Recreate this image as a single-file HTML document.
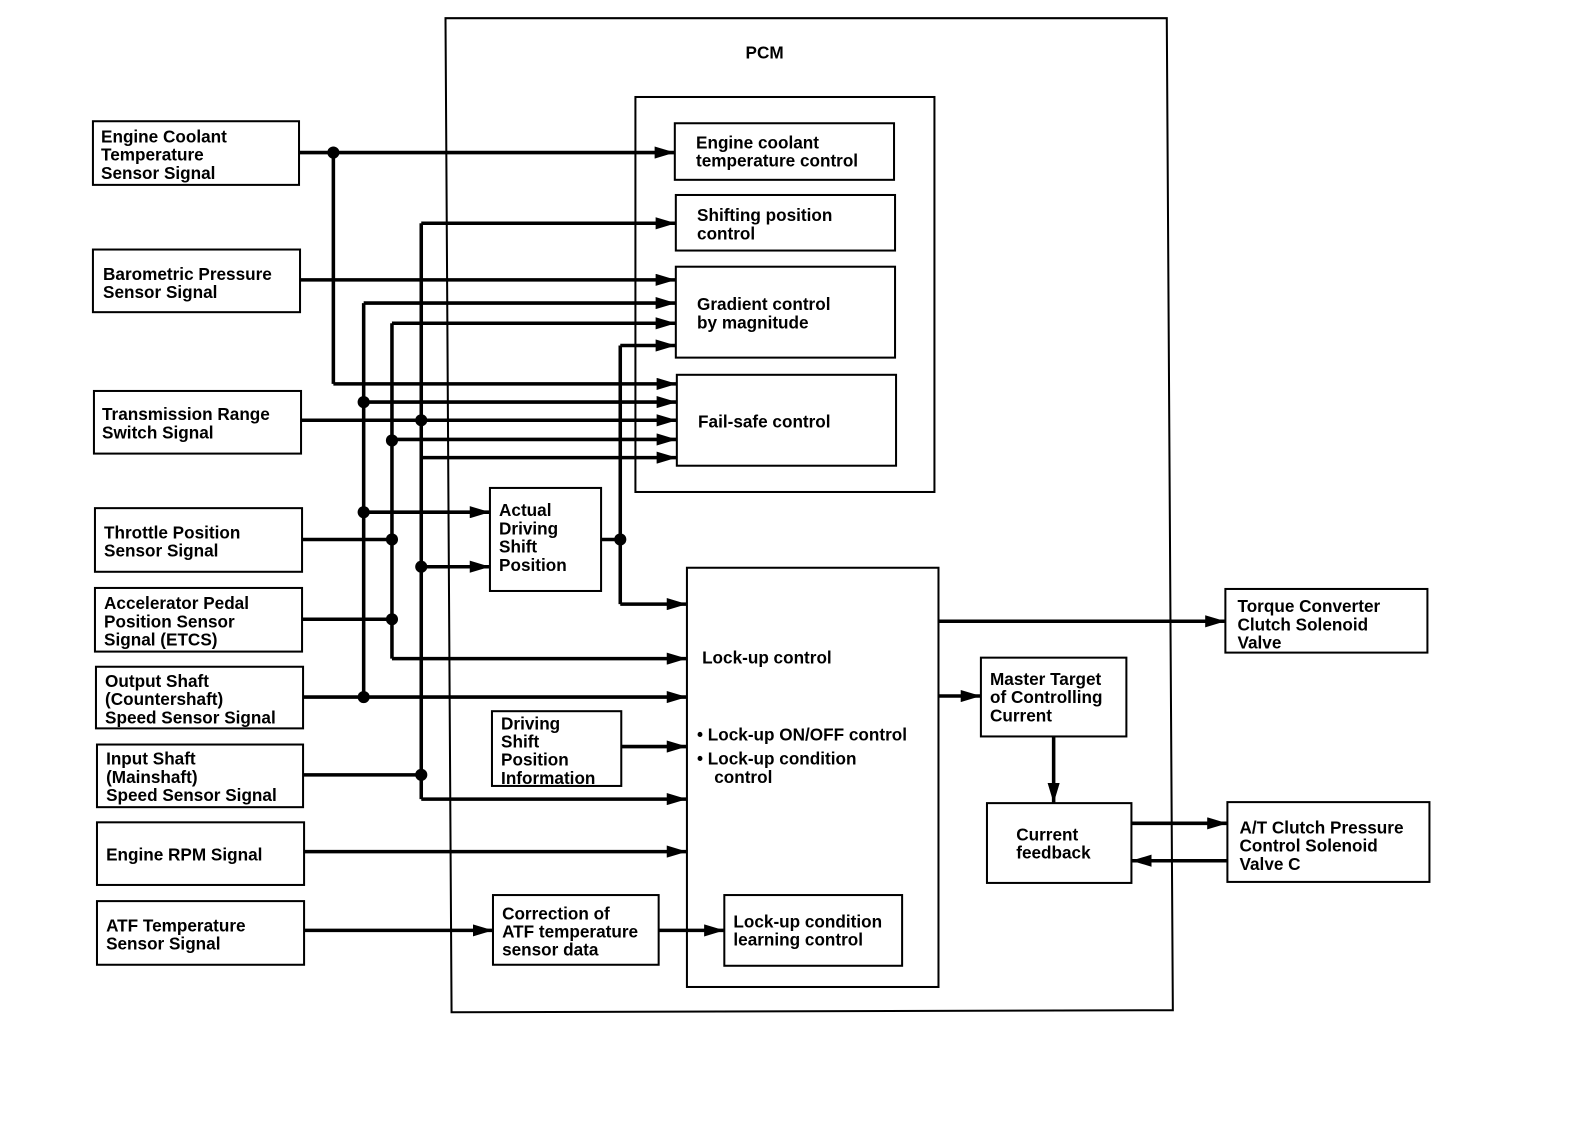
<!DOCTYPE html>
<html><head><meta charset="utf-8"><style>
html,body{margin:0;padding:0;background:#fff;}
svg{display:block;}
text{font-family:"Liberation Sans",Arial,sans-serif;font-weight:bold;font-size:17px;fill:#000;}
</style></head><body>
<svg width="1584" height="1146" viewBox="0 0 1568 1134.4" xmlns="http://www.w3.org/2000/svg">
<defs>
<marker id="a" viewBox="0 0 20 12" refX="20" refY="6" markerWidth="20" markerHeight="12" markerUnits="userSpaceOnUse" orient="auto">
<path d="M0,0 L20,6 L0,12 Z" fill="#000"/></marker>
</defs>
<g fill="none" stroke="#000" stroke-width="2">
<!-- PCM -->
<polygon points="441,18 1155,18 1161,1000 447,1002"/>
<rect x="629" y="96" width="296" height="391"/>
<rect x="668" y="122" width="217" height="56"/>
<rect x="669" y="193" width="217" height="55"/>
<rect x="669" y="264" width="217" height="90"/>
<rect x="670" y="371" width="217" height="90"/>
<rect x="485" y="483" width="110" height="102"/>
<rect x="680" y="562" width="249" height="415"/>
<rect x="487" y="704" width="128" height="74"/>
<rect x="488" y="886" width="164" height="69"/>
<rect x="717" y="886" width="176" height="70"/>
<rect x="971" y="651" width="144" height="78"/>
<rect x="977" y="795" width="143" height="79"/>
<rect x="1213" y="583" width="200" height="63"/>
<rect x="1215" y="794" width="200" height="79"/>
<rect x="92" y="120" width="204" height="63"/>
<rect x="92" y="247" width="205" height="62"/>
<rect x="93" y="387" width="205" height="62"/>
<rect x="94" y="503" width="205" height="63"/>
<rect x="94" y="582" width="205" height="63"/>
<rect x="95" y="660" width="205" height="61"/>
<rect x="96" y="737" width="204" height="62"/>
<rect x="96" y="814" width="205" height="62"/>
<rect x="96" y="892" width="205" height="63"/>
</g>
<g fill="none" stroke="#000" stroke-width="3.5">
<!-- verticals -->
<polyline points="330,151 330,380"/>
<polyline points="417,221 417,791"/>
<polyline points="360,300 360,690"/>
<polyline points="388,320 388,652"/>
<polyline points="614,342 614,598"/>
<!-- plain -->
<line x1="296" y1="151" x2="330" y2="151"/>
<line x1="299" y1="534" x2="388" y2="534"/>
<line x1="299" y1="613" x2="388" y2="613"/>
<line x1="300" y1="767" x2="417" y2="767"/>
<line x1="595" y1="534" x2="614" y2="534"/>
</g>
<g fill="none" stroke="#000" stroke-width="3.5" marker-end="url(#a)">
<line x1="330" y1="151" x2="668" y2="151"/>
<line x1="417" y1="221" x2="669" y2="221"/>
<line x1="297" y1="277" x2="669" y2="277"/>
<line x1="360" y1="300" x2="669" y2="300"/>
<line x1="388" y1="320" x2="669" y2="320"/>
<line x1="614" y1="342" x2="669" y2="342"/>
<line x1="330" y1="380" x2="670" y2="380"/>
<line x1="360" y1="398" x2="670" y2="398"/>
<line x1="298" y1="416" x2="670" y2="416"/>
<line x1="388" y1="435" x2="670" y2="435"/>
<line x1="417" y1="453" x2="670" y2="453"/>
<line x1="360" y1="507" x2="485" y2="507"/>
<line x1="417" y1="561" x2="485" y2="561"/>
<line x1="614" y1="598" x2="680" y2="598"/>
<line x1="388" y1="652" x2="680" y2="652"/>
<line x1="300" y1="690" x2="680" y2="690"/>
<line x1="615" y1="739" x2="680" y2="739"/>
<line x1="417" y1="791" x2="680" y2="791"/>
<line x1="301" y1="843" x2="680" y2="843"/>
<line x1="301" y1="921" x2="488" y2="921"/>
<line x1="652" y1="921" x2="717" y2="921"/>
<line x1="929" y1="615" x2="1213" y2="615"/>
<line x1="929" y1="689" x2="971" y2="689"/>
<line x1="1043" y1="729" x2="1043" y2="795"/>
<line x1="1120" y1="815" x2="1215" y2="815"/>
<line x1="1215" y1="852" x2="1120" y2="852"/>
</g>
<g fill="#000">
<circle cx="330" cy="151" r="6"/>
<circle cx="360" cy="398" r="6"/>
<circle cx="417" cy="416" r="6"/>
<circle cx="388" cy="436" r="6"/>
<circle cx="360" cy="507" r="6"/>
<circle cx="388" cy="534" r="6"/>
<circle cx="417" cy="561" r="6"/>
<circle cx="614" cy="534" r="6"/>
<circle cx="388" cy="613" r="6"/>
<circle cx="360" cy="690" r="6"/>
<circle cx="417" cy="767" r="6"/>
</g>
<text x="738" y="58">PCM</text>
<text x="100" y="141">Engine Coolant</text><text x="100" y="159">Temperature</text><text x="100" y="177">Sensor Signal</text>
<text x="102" y="277">Barometric Pressure</text><text x="102" y="295">Sensor Signal</text>
<text x="101" y="416">Transmission Range</text><text x="101" y="434">Switch Signal</text>
<text x="103" y="533">Throttle Position</text><text x="103" y="551">Sensor Signal</text>
<text x="103" y="603">Accelerator Pedal</text><text x="103" y="621">Position Sensor</text><text x="103" y="639">Signal (ETCS)</text>
<text x="104" y="680">Output Shaft</text><text x="104" y="698">(Countershaft)</text><text x="104" y="716">Speed Sensor Signal</text>
<text x="105" y="757">Input Shaft</text><text x="105" y="775">(Mainshaft)</text><text x="105" y="793">Speed Sensor Signal</text>
<text x="105" y="852">Engine RPM Signal</text>
<text x="105" y="922">ATF Temperature</text><text x="105" y="940">Sensor Signal</text>
<text x="689" y="147">Engine coolant</text><text x="689" y="165">temperature control</text>
<text x="690" y="219">Shifting position</text><text x="690" y="237">control</text>
<text x="690" y="307">Gradient control</text><text x="690" y="325">by magnitude</text>
<text x="691" y="423">Fail-safe control</text>
<text x="494" y="511">Actual</text><text x="494" y="529">Driving</text><text x="494" y="547">Shift</text><text x="494" y="565">Position</text>
<text x="695" y="657">Lock-up control</text>
<text x="690" y="733">•  Lock-up ON/OFF control</text>
<text x="690" y="757">•  Lock-up condition</text><text x="707" y="775">control</text>
<text x="496" y="722">Driving</text><text x="496" y="740">Shift</text><text x="496" y="758">Position</text><text x="496" y="776">Information</text>
<text x="497" y="910">Correction of</text><text x="497" y="928">ATF temperature</text><text x="497" y="946">sensor data</text>
<text x="726" y="918">Lock-up condition</text><text x="726" y="936">learning control</text>
<text x="980" y="678">Master Target</text><text x="980" y="696">of Controlling</text><text x="980" y="714">Current</text>
<text x="1006" y="832">Current</text><text x="1006" y="850">feedback</text>
<text x="1225" y="606">Torque Converter</text><text x="1225" y="624">Clutch Solenoid</text><text x="1225" y="642">Valve</text>
<text x="1227" y="825">A/T Clutch Pressure</text><text x="1227" y="843">Control Solenoid</text><text x="1227" y="861">Valve C</text>
</svg>
</body></html>
